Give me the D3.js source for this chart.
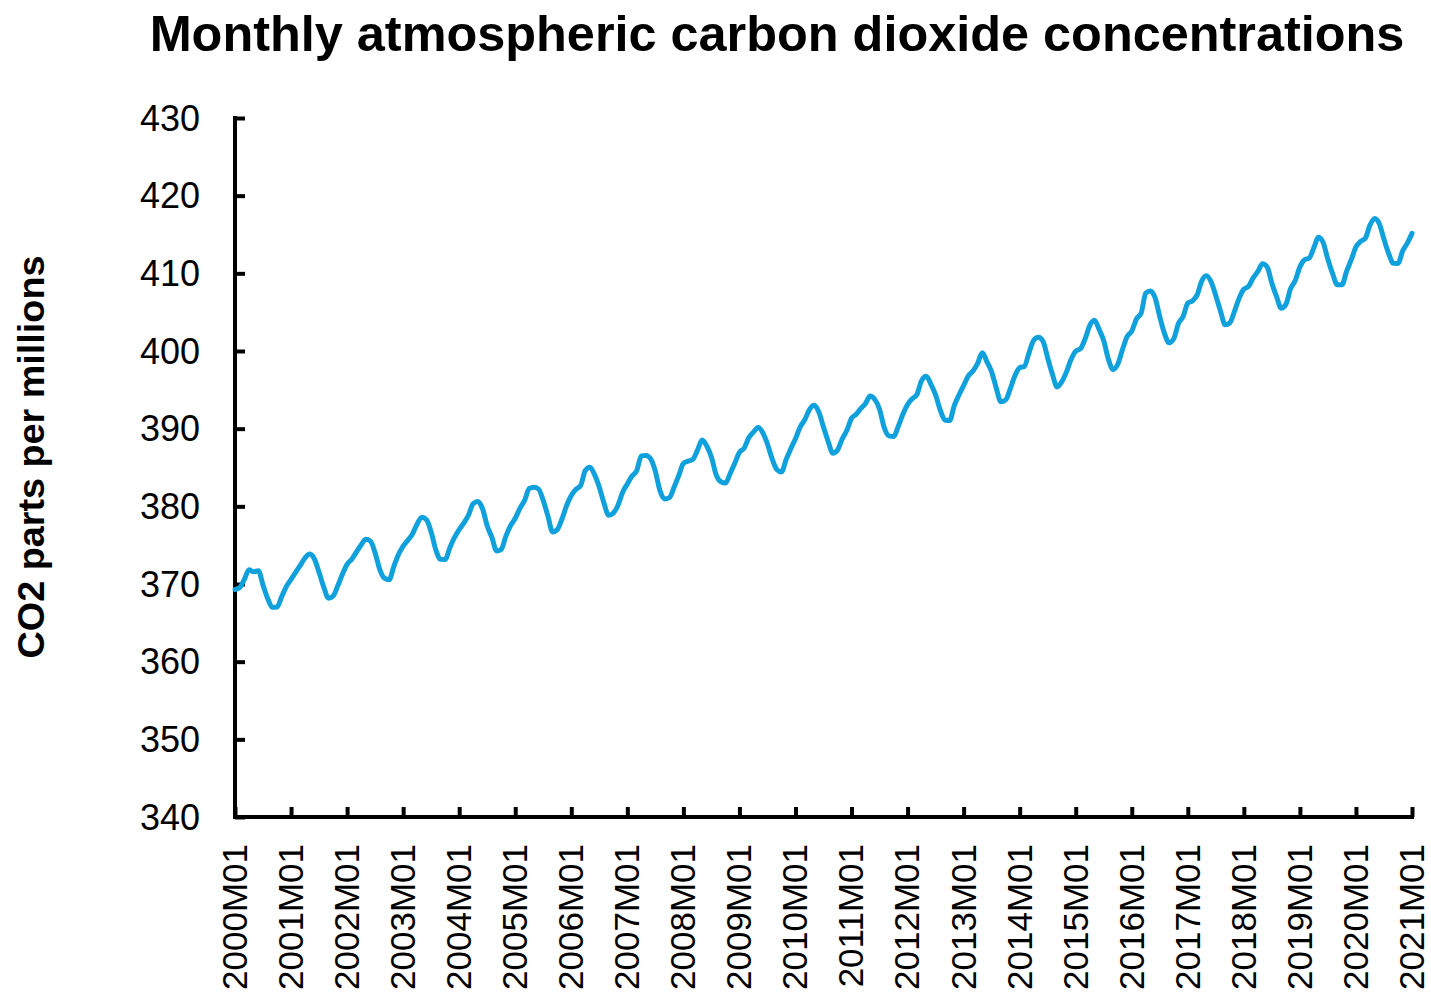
<!DOCTYPE html>
<html><head><meta charset="utf-8">
<script src="https://cdn.jsdelivr.net/npm/d3@7"></script>
<style>body{margin:0;background:#fff;} text{font-family:"Liberation Sans",Arial,sans-serif;}</style>
</head><body>
<svg id="c" width="1431" height="998"></svg>
<script>
const years = d3.range(2000, 2022);
const tickLabels = years.map(y => y + "M01");
const yTicks = [340,350,360,370,380,390,400,410,420,430];
const co2_2000 = [369.29,369.54,370.60,371.82,371.58,371.70,369.86,368.13,367.00,367.03,368.37,369.67];
const co2_2001 = [370.59,371.51,372.43,373.37,373.85,373.22,371.50,369.61,368.18,368.45,369.76,371.24];
const co2_2002 = [372.53,373.20,374.12,375.02,375.76,375.52,374.01,371.85,370.75,370.55,372.25,373.79];
const co2_2003 = [374.88,375.64,376.45,377.73,378.60,378.28,376.70,374.38,373.17,373.15,374.66,375.99];
const co2_2004 = [377.00,377.87,378.88,380.35,380.62,379.69,377.47,376.01,374.25,374.46,376.16,377.51];
const co2_2005 = [378.46,379.73,380.77,382.29,382.45,382.21,380.74,378.74,376.70,377.00,378.35,380.11];
const co2_2006 = [381.38,382.19,382.67,384.61,385.03,384.05,382.46,380.41,378.85,379.13,380.15,381.82];
const co2_2007 = [382.89,383.90,384.58,386.50,386.56,386.10,384.50,381.99,380.96,381.12,382.45,383.95];
const co2_2008 = [385.52,385.82,386.03,387.21,388.54,387.76,386.36,384.09,383.18,382.99,384.19,385.56];
const co2_2009 = [386.94,387.48,388.82,389.55,390.14,389.48,388.03,386.11,384.74,384.43,386.02,387.42];
const co2_2010 = [388.71,390.20,391.17,392.46,393.00,392.15,390.20,388.35,386.85,387.24,388.67,389.79];
const co2_2011 = [391.33,391.86,392.60,393.25,394.19,393.74,392.51,390.13,389.08,389.00,390.28,391.86];
const co2_2012 = [393.12,393.86,394.40,396.18,396.74,395.71,394.36,392.39,391.11,391.05,392.98,394.34];
const co2_2013 = [395.55,396.80,397.43,398.41,399.78,398.61,397.32,395.20,393.45,393.70,395.16,396.84];
const co2_2014 = [397.85,398.01,399.77,401.38,401.78,401.25,399.10,397.03,395.38,396.03,397.28,398.91];
const co2_2015 = [399.98,400.28,401.54,403.28,403.96,402.80,401.31,398.93,397.63,398.29,400.16,401.85];
const co2_2016 = [402.56,404.12,404.87,407.45,407.72,406.83,404.41,402.27,401.05,401.59,403.55,404.45];
const co2_2017 = [406.17,406.46,407.22,409.04,409.69,408.88,407.12,405.13,403.37,403.63,405.12,406.81];
const co2_2018 = [407.96,408.32,409.41,410.24,411.24,410.79,408.71,406.99,405.51,406.00,408.02,409.07];
const co2_2019 = [410.83,411.75,411.97,413.32,414.66,413.92,411.77,409.95,408.54,408.53,410.27,411.76];
const co2_2020 = [413.40,414.11,414.51,416.21,417.07,416.39,414.38,412.55,411.29,411.28,412.89,413.89];
const co2_2021 = [415.15];

const values = [].concat(co2_2000,co2_2001,co2_2002,co2_2003,co2_2004,co2_2005,co2_2006,co2_2007,
  co2_2008,co2_2009,co2_2010,co2_2011,co2_2012,co2_2013,co2_2014,co2_2015,co2_2016,co2_2017,
  co2_2018,co2_2019,co2_2020,co2_2021);

const svg = d3.select("#c");
const x = d3.scaleLinear().domain([0, values.length - 1]).range([235, 1412]);
const y = d3.scaleLinear().domain([340, 430]).range([817, 118]);

// Title
const title = svg.append("text").attr("x", 777).attr("y", 51)
  .attr("text-anchor", "middle").attr("font-weight", "bold").attr("font-size", 44)
  .attr("fill", "#000").text("Monthly atmospheric carbon dioxide concentrations");
const tw = title.node().getComputedTextLength();
title.attr("font-size", 44 * 1255 / tw);

// Y axis title
const yt = svg.append("text").attr("transform", "translate(44,457) rotate(-90)")
  .attr("text-anchor", "middle").attr("font-weight", "bold").attr("font-size", 34)
  .attr("fill", "#000").text("CO2 parts per millions");
const yw = yt.node().getComputedTextLength();
yt.attr("font-size", 34 * 403 / yw);

// Y axis
const yAxis = svg.append("g").attr("transform", "translate(235,0)")
  .call(d3.axisRight(y).tickValues(yTicks).tickSize(10).tickFormat(""));
yAxis.select(".domain").attr("stroke", "#000").attr("stroke-width", 4).attr("d", `M0,${y(430)-2}V${y(340)}`);
yAxis.selectAll(".tick line").attr("stroke", "#000").attr("stroke-width", 4);
svg.append("g").selectAll("text").data(yTicks).join("text")
  .attr("x", 200).attr("y", d => y(d)).attr("dy", "0.35em")
  .attr("text-anchor", "end").attr("font-size", 36).attr("fill", "#000").text(d => d);

// X axis
const xTickIdx = years.map((yr, i) => i * 12);
const xAxis = svg.append("g").attr("transform", "translate(0,817)")
  .call(d3.axisTop(x).tickValues(xTickIdx).tickSize(10).tickFormat(""));
xAxis.select(".domain").attr("stroke", "#000").attr("stroke-width", 4).attr("d", `M${x(0)-2},0H${x(252)+2}`);
xAxis.selectAll(".tick line").attr("stroke", "#000").attr("stroke-width", 4);
svg.append("g").selectAll("text").data(xTickIdx).join("text")
  .attr("transform", d => `translate(${x(d)},844) rotate(-90)`)
  .attr("dy", "0.34em").attr("text-anchor", "end").attr("font-size", 35).attr("fill", "#000")
  .text((d, i) => tickLabels[i]);

// Line
const line = d3.line().x((d, i) => x(i)).y(d => y(d)).curve(d3.curveMonotoneX);
svg.append("path").datum(values).attr("d", line)
  .attr("fill", "none").attr("stroke", "#10a1dd").attr("stroke-width", 5)
  .attr("stroke-linejoin", "round").attr("stroke-linecap", "round");
</script>
</body></html>
